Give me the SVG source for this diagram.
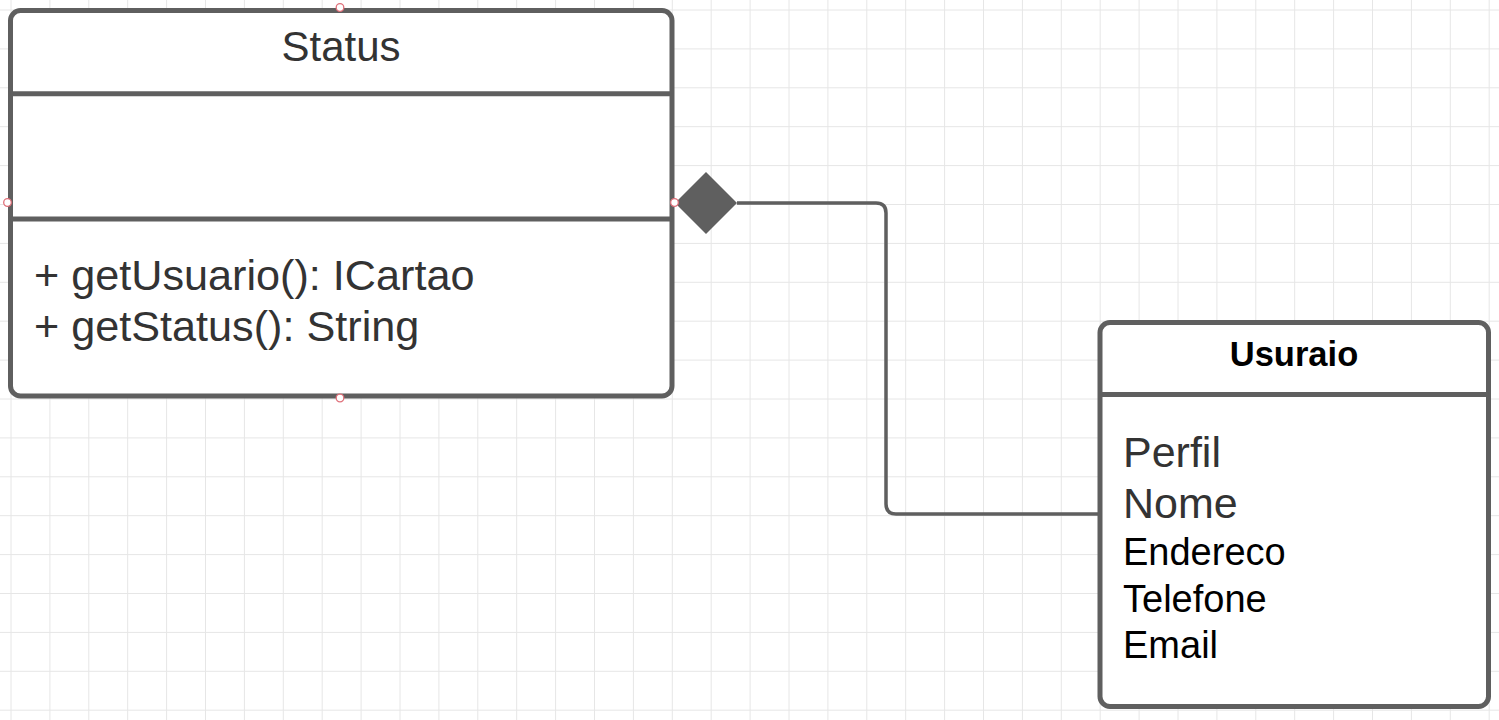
<svg xmlns="http://www.w3.org/2000/svg" width="1499" height="720" viewBox="0 0 1499 720">
<style>
.grid{stroke:#e6e6e6;stroke-width:1;fill:none}
.box{fill:#ffffff;stroke:#5f5f5f;stroke-width:5}
.div{stroke:#5f5f5f;stroke-width:5}
.conn{fill:none;stroke:#5f5f5f;stroke-width:3.5}
.handle{fill:#ffffff;stroke:#e0707a;stroke-width:1.3}
.t{font-family:"Liberation Sans",Arial,sans-serif;fill:#333333}
.tb{font-family:"Liberation Sans",Arial,sans-serif;fill:#000000}
</style>
<rect x="0" y="0" width="1499" height="720" fill="#ffffff"/>
<path class="grid" d="M11 0V720M49.9 0V720M88.8 0V720M127.7 0V720M166.6 0V720M205.5 0V720M244.4 0V720M283.3 0V720M322.2 0V720M361.1 0V720M400 0V720M438.9 0V720M477.8 0V720M516.7 0V720M555.6 0V720M594.5 0V720M633.4 0V720M672.3 0V720M711.2 0V720M750.1 0V720M789 0V720M827.9 0V720M866.8 0V720M905.7 0V720M944.6 0V720M983.5 0V720M1022.4 0V720M1061.3 0V720M1100.2 0V720M1139.1 0V720M1178 0V720M1216.9 0V720M1255.8 0V720M1294.7 0V720M1333.6 0V720M1372.5 0V720M1411.4 0V720M1450.3 0V720M1489.2 0V720M0 10H1499M0 48.9H1499M0 87.8H1499M0 126.7H1499M0 165.6H1499M0 204.5H1499M0 243.4H1499M0 282.3H1499M0 321.2H1499M0 360.1H1499M0 399H1499M0 437.9H1499M0 476.8H1499M0 515.7H1499M0 554.6H1499M0 593.5H1499M0 632.4H1499M0 671.3H1499M0 710.2H1499"/>
<g id="connectors">
<path class="conn" d="M737 203H876Q886 203 886 213V504Q886 514 896 514H1100"/>
<polygon points="675,203 706,172 737,203 706,234" fill="#5f5f5f"/>
</g>
<g id="status">
<rect class="box" x="10.5" y="10.5" width="661.5" height="385.5" rx="10"/>
<line class="div" x1="10.5" y1="93.7" x2="672" y2="93.7"/>
<line class="div" x1="10.5" y1="219" x2="672" y2="219"/>
<text class="t" x="341" y="61" font-size="42" text-anchor="middle">Status</text>
<text class="t" x="34" y="290" font-size="43.2">+ getUsuario(): ICartao</text>
<text class="t" x="34" y="341" font-size="43.2">+ getStatus(): String</text>
<circle class="handle" cx="340" cy="7.5" r="3.8"/>
<circle class="handle" cx="7.5" cy="202.5" r="3.8"/>
<circle class="handle" cx="674.5" cy="202.5" r="3.8"/>
<circle class="handle" cx="340" cy="398" r="3.8"/>
</g>
<g id="usuraio">
<rect class="box" x="1100" y="322.5" width="388.5" height="384" rx="10"/>
<line class="div" x1="1100" y1="394.5" x2="1488.5" y2="394.5"/>
<text class="tb" x="1294" y="366" font-size="34.5" font-weight="bold" text-anchor="middle">Usuraio</text>
<text class="t" x="1123" y="467" font-size="43">Perfil</text>
<text class="t" x="1123" y="518" font-size="43">Nome</text>
<text class="tb" x="1123" y="565" font-size="38">Endereco</text>
<text class="tb" x="1123" y="611.5" font-size="38">Telefone</text>
<text class="tb" x="1123" y="657.5" font-size="38">Email</text>
</g>
</svg>
